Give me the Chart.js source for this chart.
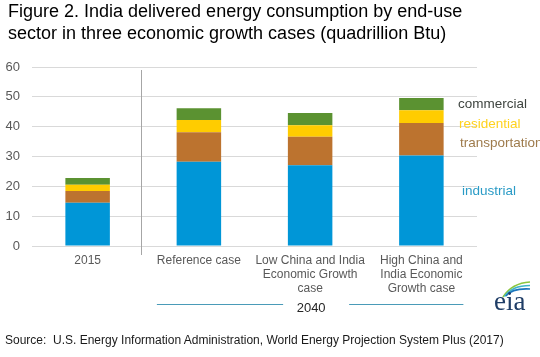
<!DOCTYPE html>
<html>
<head>
<meta charset="utf-8">
<script src="https://cdn.jsdelivr.net/npm/chart.js@4"></script>
<style>
  html, body { margin: 0; padding: 0; background: #fff; }
  #wrap { position: relative; width: 540px; height: 357px; overflow: hidden; font-family: "Liberation Sans", Arial, sans-serif; }
  canvas { position: absolute; left: 0; top: 0; }
  .t { position: absolute; white-space: nowrap; }
  #title { left: 8px; top: 0px; font-size: 18px; line-height: 22px; color: #000; }
  #source { left: 5px; top: 333px; font-size: 12px; line-height: 14px; color: #1a1a1a; }
  .lab { font-size: 13.5px; line-height: 16px; }
  #logo { left: 494px; top: 288px; font-family: "Liberation Serif", "DejaVu Serif", serif; font-size: 27px; line-height: 27px; color: #1f3d66; }
</style>
</head>
<body>
<div id="wrap">
  <canvas id="c" width="540" height="357"></canvas>
  <div class="t" id="title">Figure 2. India delivered energy consumption by end-use<br>sector in three economic growth cases (quadrillion Btu)</div>
  <div class="t lab" style="left:458px;top:96px;color:#3f4540;">commercial</div>
  <div class="t lab" style="left:459px;top:116px;color:#ffd21f;">residential</div>
  <div class="t lab" style="left:460px;top:135px;color:#9e7b4c;">transportation</div>
  <div class="t lab" style="left:462px;top:183px;color:#2a9bc6;">industrial</div>
  <div class="t" id="logo">eia</div>
  <div class="t" id="source">Source:&nbsp; U.S. Energy Information Administration, World Energy Projection System Plus (2017)</div>
</div>
<script>
const categories = [
  ["2015"],
  ["Reference case"],
  ["Low China and India", "Economic Growth", "case"],
  ["High China and", "India Economic", "Growth case"]
];
const industrial     = [14.5, 28.2, 27.1, 30.3];
const transportation = [3.9, 9.9, 9.5, 10.9];
const residential    = [2.1, 4.1, 3.9, 4.3];
const commercial     = [2.3, 4.0, 4.1, 4.1];
const yTicks = [0, 10, 20, 30, 40, 50, 60];
const groupLabel = "2040";

const deco = {
  id: 'deco',
  afterDraw(chart) {
    const ctx = chart.ctx;
    const x = chart.scales.x;
    ctx.save();
    // separator between 2015 and 2040 groups
    const sx = Math.round((x.getPixelForValue(0) + x.getPixelForValue(1)) / 2) - 1.5;
    ctx.strokeStyle = '#a6a6a6';
    ctx.lineWidth = 1;
    ctx.beginPath();
    ctx.moveTo(sx, 70);
    ctx.lineTo(sx, 255);
    ctx.stroke();
    // 2040 bracket
    const cx = x.getPixelForValue(2) + 1;
    const l0 = x.getPixelForValue(1) - 42;
    const r1 = x.getPixelForValue(3) + 42;
    const y = 304.5;
    ctx.strokeStyle = '#4a9bb8';
    ctx.beginPath();
    ctx.moveTo(l0, y); ctx.lineTo(cx - 28, y);
    ctx.moveTo(cx + 38, y); ctx.lineTo(r1, y);
    ctx.stroke();
    ctx.fillStyle = '#262626';
    ctx.font = '13px "Liberation Sans", Arial, sans-serif';
    ctx.textAlign = 'center';
    ctx.textBaseline = 'middle';
    ctx.fillText(groupLabel, cx, 308);
    // logo swooshes
    const cols = ['#8cc63f', '#3fb4c9', '#1b75bc'];
    ctx.lineWidth = 1.6;
    cols.forEach((c, i) => {
      ctx.strokeStyle = c;
      ctx.beginPath();
      ctx.moveTo(503 + i * 1.5, 297 - i * 0.5);
      ctx.quadraticCurveTo(512, 283 + i * 2.5, 530, 282 + i * 3.5);
      ctx.stroke();
    });
    ctx.restore();
  }
};

new Chart(document.getElementById('c'), {
  type: 'bar',
  data: {
    labels: categories,
    datasets: [
      { label: 'industrial', data: industrial, backgroundColor: '#0096d7' },
      { label: 'transportation', data: transportation, backgroundColor: '#bc732f' },
      { label: 'residential', data: residential, backgroundColor: '#ffcc00' },
      { label: 'commercial', data: commercial, backgroundColor: '#5b9231' }
    ]
  },
  options: {
    responsive: false,
    animation: false,
    devicePixelRatio: 1,
    layout: { padding: { top: 67, right: 63, left: 0, bottom: 0 } },
    datasets: { bar: { categoryPercentage: 1.0, barPercentage: 0.4 } },
    plugins: { legend: { display: false }, tooltip: { enabled: false } },
    scales: {
      x: {
        stacked: true,
        grid: { display: false, drawTicks: false },
        border: { display: false },
        ticks: {
          color: '#595959',
          font: { family: '"Liberation Sans", Arial, sans-serif', size: 12, lineHeight: 1.15 },
          padding: 8,
          maxRotation: 0,
          autoSkip: false
        },
        afterFit(s) { s.height = 111; }
      },
      y: {
        stacked: true,
        min: 0, max: 60,
        afterBuildTicks(s) { s.ticks = yTicks.map(v => ({ value: v })); },
        grid: { color: '#d9d9d9', drawTicks: false },
        border: { display: false },
        ticks: {
          color: '#595959',
          font: { family: '"Liberation Sans", Arial, sans-serif', size: 13 },
          padding: 12
        },
        afterFit(s) { s.width = 32; }
      }
    }
  },
  plugins: [deco]
});
</script>
</body>
</html>
